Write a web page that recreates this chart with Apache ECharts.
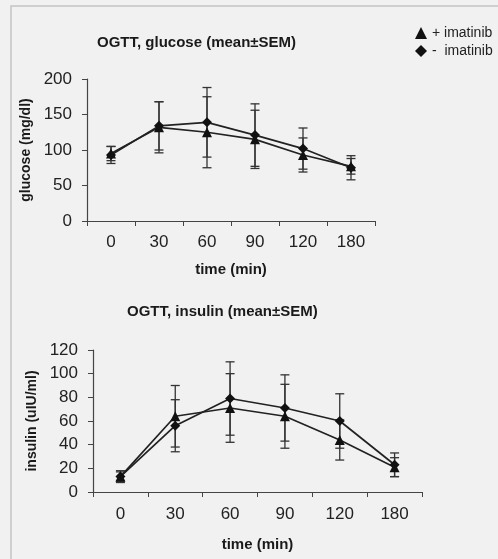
<!DOCTYPE html>
<html>
<head>
<meta charset="utf-8">
<script src="https://cdn.jsdelivr.net/npm/echarts@6/dist/echarts.min.js"></script>
<style>
  html, body { margin: 0; padding: 0; background: #f1f1f1; }
  #chart { width: 498px; height: 559px; }
</style>
</head>
<body>
<div id="chart"></div>
<script>
// time points (min)
const times = ['0', '30', '60', '90', '120', '180'];

// glucose (mg/dl), mean and SEM
const glucoseMinus = [93, 134, 139, 121, 102, 75];
const glucoseMinusSem = [12, 34, 49, 44, 29, 17];
const glucosePlus = [95, 132, 125, 115, 93, 77];
const glucosePlusSem = [10, 36, 50, 41, 24, 11];

// insulin (uIU/ml), mean and SEM
const insulinMinus = [13, 56, 79, 71, 60, 23];
const insulinMinusSem = [5, 22, 31, 28, 23, 10];
const insulinPlus = [13, 64, 71, 64, 44, 21];
const insulinPlusSem = [4, 26, 29, 27, 17, 8];

const nameMinus = '-  imatinib';
const namePlus = '+ imatinib';
const font = 'Liberation Sans, Arial, sans-serif';

const errData = (mean, sem) => mean.map((m, i) => [i, m + sem[i], m - sem[i]]);

const renderErr = (params, api) => {
    const i = api.value(0);
    const hi = api.coord([i, api.value(1)]);
    const lo = api.coord([i, api.value(2)]);
    const hw = 4.5;
    const style = { stroke: '#333', lineWidth: 1.3 };
    return {
        type: 'group',
        children: [
            { type: 'line', shape: { x1: hi[0], y1: hi[1], x2: lo[0], y2: lo[1] }, style },
            { type: 'line', shape: { x1: hi[0] - hw, y1: hi[1], x2: hi[0] + hw, y2: hi[1] }, style },
            { type: 'line', shape: { x1: lo[0] - hw, y1: lo[1], x2: lo[0] + hw, y2: lo[1] }, style }
        ]
    };
};

const lineSeries = (name, data, idx, symbol) => ({
    name: name,
    type: 'line',
    xAxisIndex: idx,
    yAxisIndex: idx,
    data: data,
    symbol: symbol,
    symbolSize: 10,
    showSymbol: true,
    itemStyle: { color: '#111' },
    lineStyle: { color: '#222', width: 1.7 },
    z: 3
});

const errSeries = (name, mean, sem, idx) => ({
    name: name,
    type: 'custom',
    xAxisIndex: idx,
    yAxisIndex: idx,
    data: errData(mean, sem),
    renderItem: renderErr,
    z: 2
});

const xAxisCommon = {
    type: 'category',
    data: times,
    name: 'time (min)',
    nameLocation: 'middle',
    nameTextStyle: { fontFamily: font, fontSize: 15, fontWeight: 'bold', color: '#1a1a1a' },
    axisLine: { lineStyle: { color: '#444', width: 1.2 } },
    axisTick: { show: true, length: 5, lineStyle: { color: '#444' } },
    axisLabel: { fontFamily: font, fontSize: 17, color: '#222' },
    splitLine: { show: false }
};

const yAxisCommon = {
    type: 'value',
    min: 0,
    nameLocation: 'middle',
    nameTextStyle: { fontFamily: font, fontSize: 14, fontWeight: 'bold', color: '#1a1a1a' },
    axisLine: { show: true, lineStyle: { color: '#444', width: 1.2 } },
    axisTick: { show: true, length: 5, lineStyle: { color: '#444' } },
    axisLabel: { fontFamily: font, fontSize: 17, color: '#222', margin: 15 },
    splitLine: { show: false }
};

const chart = echarts.init(document.getElementById('chart'));
chart.setOption({
    animation: false,
    backgroundColor: '#f1f1f1',
    graphic: [{
        type: 'polyline',
        shape: { points: [[11, 559], [11, 6], [498, 6]] },
        style: { stroke: '#c4c4c4', lineWidth: 1.5, fill: null }
    }],
    title: [
        { text: 'OGTT, glucose (mean±SEM)', left: 92, top: 30,
          textStyle: { fontFamily: font, fontSize: 15, fontWeight: 'bold', color: '#1a1a1a' } },
        { text: 'OGTT, insulin (mean±SEM)', left: 122, top: 299,
          textStyle: { fontFamily: font, fontSize: 15, fontWeight: 'bold', color: '#1a1a1a' } }
    ],
    legend: {
        orient: 'vertical',
        left: 410,
        top: 21,
        itemWidth: 12,
        itemHeight: 12,
        itemGap: 4,
        textStyle: { fontFamily: font, fontSize: 14, color: '#222', lineHeight: 14 },
        data: [{ name: namePlus, icon: 'triangle' }, { name: nameMinus, icon: 'diamond' }]
    },
    grid: [
        { left: 87, right: 123, top: 79, height: 142 },
        { left: 93, right: 76, top: 350, height: 142 }
    ],
    xAxis: [
        Object.assign({}, xAxisCommon, { gridIndex: 0, nameGap: 41, axisLabel: Object.assign({}, xAxisCommon.axisLabel, { margin: 13 }) }),
        Object.assign({}, xAxisCommon, { gridIndex: 1, nameGap: 45, axisLabel: Object.assign({}, xAxisCommon.axisLabel, { margin: 14 }) })
    ],
    yAxis: [
        Object.assign({}, yAxisCommon, { gridIndex: 0, max: 200, interval: 50, name: 'glucose (mg/dl)', nameGap: 52 }),
        Object.assign({}, yAxisCommon, { gridIndex: 1, max: 120, interval: 20, name: 'insulin (uIU/ml)', nameGap: 54 })
    ],
    series: [
        errSeries('errG1', glucoseMinus, glucoseMinusSem, 0),
        errSeries('errG2', glucosePlus, glucosePlusSem, 0),
        lineSeries(nameMinus, glucoseMinus, 0, 'diamond'),
        lineSeries(namePlus, glucosePlus, 0, 'triangle'),
        errSeries('errI1', insulinMinus, insulinMinusSem, 1),
        errSeries('errI2', insulinPlus, insulinPlusSem, 1),
        lineSeries(nameMinus, insulinMinus, 1, 'diamond'),
        lineSeries(namePlus, insulinPlus, 1, 'triangle')
    ]
});
</script>
</body>
</html>
